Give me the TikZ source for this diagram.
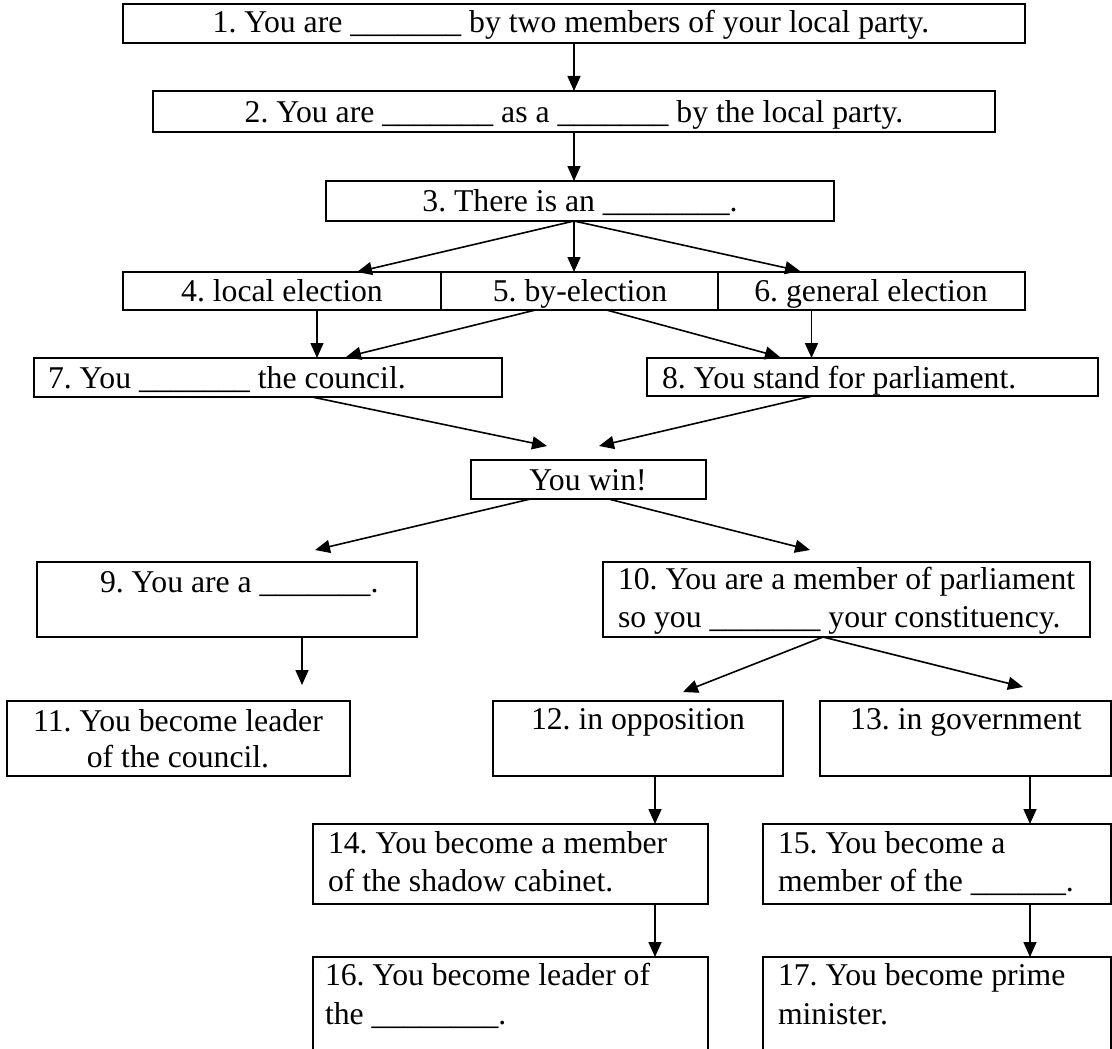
\documentclass[tikz,border=0pt]{standalone}
\usepackage{fontspec}
\setmainfont{Liberation Serif}
\usetikzlibrary{arrows.meta}
\frenchspacing
\begin{document}
\begin{tikzpicture}[x=1pt,y=-1pt,
  box/.style={draw,line width=2.2pt,inner sep=0pt,outer sep=0pt,anchor=north west},
  txt/.style={inner sep=0pt,outer sep=0pt,font=\fontsize{31.7pt}{36.5pt}\selectfont},
  arr/.style={line width=1.6pt,-{Triangle[length=15pt,width=13pt]}}]
\useasboundingbox (0,0) rectangle (1112,1049);
\clip (0,0) rectangle (1112,1049);
% boxes
\node[box,minimum width=902pt,minimum height=39pt] (b1) at (123,4) {};
\node[box,minimum width=842pt,minimum height=41pt] (b2) at (153,91) {};
\node[box,minimum width=508pt,minimum height=40pt] (b3) at (326,181) {};
\node[box,minimum width=318pt,minimum height=38pt] (b4) at (123,272) {};
\node[box,minimum width=277pt,minimum height=38pt] (b5) at (441,272) {};
\node[box,minimum width=307pt,minimum height=38pt] (b6) at (718,272) {};
\node[box,minimum width=468pt,minimum height=39pt] (b7) at (34,358) {};
\node[box,minimum width=451pt,minimum height=38pt] (b8) at (647,358) {};
\node[box,minimum width=235pt,minimum height=39pt] (bw) at (471,460) {};
\node[box,minimum width=380pt,minimum height=75pt] (b9) at (37,562) {};
\node[box,minimum width=487pt,minimum height=75pt] (b10) at (603,562) {};
\node[box,minimum width=343pt,minimum height=75pt] (b11) at (7,701) {};
\node[box,minimum width=290pt,minimum height=75pt] (b12) at (493,701) {};
\node[box,minimum width=291pt,minimum height=75pt] (b13) at (820,701) {};
\node[box,minimum width=395pt,minimum height=80pt] (b14) at (313,824) {};
\node[box,minimum width=348pt,minimum height=80pt] (b15) at (763,824) {};
\node[box,minimum width=395pt,minimum height=110pt] (b16) at (313,957) {};
\node[box,minimum width=348pt,minimum height=110pt] (b17) at (763,957) {};
% texts
\node[txt,anchor=base] (t1) at (571,33) {1. You are \_\_\_\_\_\_\_ by two members of your local party.};
\node[txt,anchor=base] (t2) at (574,122) {2. You are \_\_\_\_\_\_\_ as a \_\_\_\_\_\_\_ by the local party.};
\node[txt,anchor=base] (t3) at (580,211) {3. There is an \_\_\_\_\_\_\_\_.};
\node[txt,anchor=base] (t4) at (282,301) {4. local election};
\node[txt,anchor=base] (t5) at (580,301) {5. by-election};
\node[txt,anchor=base] (t6) at (871,301) {6. general election};
\node[txt,anchor=base west] (t7) at (48,388) {7. You \_\_\_\_\_\_\_ the council.};
\node[txt,anchor=base west] (t8) at (662,388) {8. You stand for parliament.};
\node[txt,anchor=base] (tw) at (588,490) {You win!};
\node[txt,anchor=base west] (t9) at (100,592) {9. You are a \_\_\_\_\_\_\_.};
\node[txt,anchor=base west] (t10a) at (618,589) {10. You are a member of parliament};
\node[txt,anchor=base west] (t10b) at (618,627) {so you \_\_\_\_\_\_\_ your constituency.};
\node[txt,anchor=base] (t11a) at (178,731) {11. You become leader};
\node[txt,anchor=base] (t11b) at (178,767) {of the council.};
\node[txt,anchor=base] (t12) at (638,729) {12. in opposition};
\node[txt,anchor=base] (t13) at (966,729) {13. in government};
\node[txt,anchor=base west] (t14a) at (328,853) {14. You become a member};
\node[txt,anchor=base west] (t14b) at (328,891) {of the shadow cabinet.};
\node[txt,anchor=base west] (t15a) at (778,853) {15. You become a};
\node[txt,anchor=base west] (t15b) at (778,891) {member of the \_\_\_\_\_\_.};
\node[txt,anchor=base west] (t16a) at (325,985) {16. You become leader of};
\node[txt,anchor=base west] (t16b) at (325,1024) {the \_\_\_\_\_\_\_\_.};
\node[txt,anchor=base west] (t17a) at (778,985) {17. You become prime};
\node[txt,anchor=base west] (t17b) at (778,1024) {minister.};
% arrow start points and free tips
\coordinate (s3) at ([xshift=-6pt]b3.south);
\coordinate (c34) at (357,272);
\coordinate (c36) at (800,271);
\coordinate (s47) at ([xshift=35pt]b4.south);
\coordinate (s57) at ([xshift=-44pt]b5.south);
\coordinate (c57) at (346,357);
\coordinate (s58) at ([xshift=27pt]b5.south);
\coordinate (c58) at (780,357);
\coordinate (s68) at ([xshift=-60pt]b6.south);
\coordinate (s7w) at ([xshift=44pt]b7.south);
\coordinate (c7w) at (547,446);
\coordinate (s8w) at ([xshift=-60pt]b8.south);
\coordinate (c8w) at (599,446);
\coordinate (sw9) at ([xshift=-58pt]bw.south);
\coordinate (cw9) at (315,550);
\coordinate (sw10) at ([xshift=20pt]bw.south);
\coordinate (cw10) at (810,550);
\coordinate (s911) at ([xshift=75pt]b9.south);
\coordinate (c911) at (302,685);
\coordinate (s10) at ([xshift=220pt]b10.south west);
\coordinate (c1012) at (683,692);
\coordinate (c1013) at (1023,687);
\coordinate (s1214) at ([xshift=-128pt]b12.south east);
\coordinate (s1315) at ([xshift=-81pt]b13.south east);
\coordinate (s1416) at ([xshift=-53pt]b14.south east);
\coordinate (s1517) at ([xshift=-81pt]b15.south east);
% arrows
\draw[arr] (b1.south) -- (b2.north);
\draw[arr] (b2.south) -- (b2.south |- b3.north);
\draw[arr] (s3) -- (c34);
\draw[arr] (s3) -- (s3 |- b5.north);
\draw[arr] (s3) -- (c36);
\draw[arr] (s47) -- (s47 |- b7.north);
\draw[arr] (s57) -- (c57);
\draw[arr] (s58) -- (c58);
\draw[arr] (s68) -- (s68 |- b8.north);
\draw[arr] (s7w) -- (c7w);
\draw[arr] (s8w) -- (c8w);
\draw[arr] (sw9) -- (cw9);
\draw[arr] (sw10) -- (cw10);
\draw[arr] (s911) -- (c911);
\draw[arr] (s10) -- (c1012);
\draw[arr] (s10) -- (c1013);
\draw[arr] (s1214) -- (s1214 |- b14.north);
\draw[arr] (s1315) -- (s1315 |- b15.north);
\draw[arr] (s1416) -- (s1416 |- b16.north);
\draw[arr] (s1517) -- (s1517 |- b17.north);
\end{tikzpicture}
\end{document}
